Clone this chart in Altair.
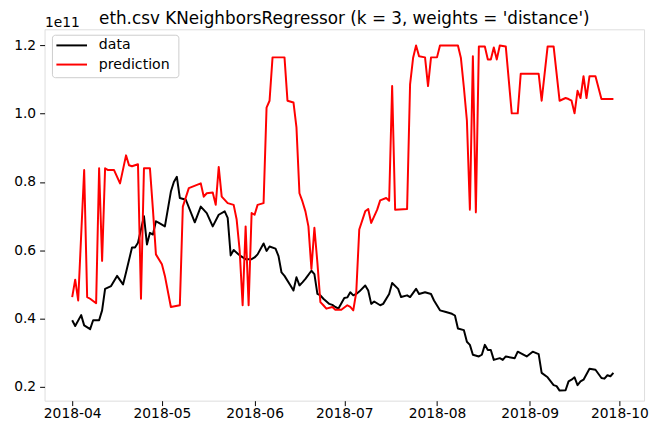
import altair as alt
import pandas as pd

# ---- data (values in units of 1e11) ----
data_dates = [
    "2018-04-01", "2018-04-02", "2018-04-04", "2018-04-05", "2018-04-07", "2018-04-08", "2018-04-10",
    "2018-04-11", "2018-04-12", "2018-04-14", "2018-04-16", "2018-04-18", "2018-04-19", "2018-04-21",
    "2018-04-22", "2018-04-23", "2018-04-25", "2018-04-26", "2018-04-27", "2018-04-28", "2018-04-29",
    "2018-04-30", "2018-05-02", "2018-05-04", "2018-05-05", "2018-05-06", "2018-05-07", "2018-05-09",
    "2018-05-12", "2018-05-14", "2018-05-16", "2018-05-18", "2018-05-20", "2018-05-22", "2018-05-23",
    "2018-05-24", "2018-05-25", "2018-05-27", "2018-05-29", "2018-05-31", "2018-06-01", "2018-06-02",
    "2018-06-04", "2018-06-05", "2018-06-06", "2018-06-08", "2018-06-09", "2018-06-10", "2018-06-11",
    "2018-06-13", "2018-06-14", "2018-06-15", "2018-06-16", "2018-06-17", "2018-06-18", "2018-06-20",
    "2018-06-21", "2018-06-22", "2018-06-23", "2018-06-24", "2018-06-26", "2018-06-27", "2018-06-28",
    "2018-06-29", "2018-07-01", "2018-07-02", "2018-07-03", "2018-07-04", "2018-07-05", "2018-07-06",
    "2018-07-08", "2018-07-09", "2018-07-10", "2018-07-11", "2018-07-13", "2018-07-14", "2018-07-16",
    "2018-07-17", "2018-07-19", "2018-07-20", "2018-07-22", "2018-07-23", "2018-07-25", "2018-07-26",
    "2018-07-28", "2018-07-30", "2018-07-31", "2018-08-02", "2018-08-04", "2018-08-06", "2018-08-07",
    "2018-08-08", "2018-08-10", "2018-08-11", "2018-08-12", "2018-08-13", "2018-08-15", "2018-08-16",
    "2018-08-17", "2018-08-18", "2018-08-19", "2018-08-20", "2018-08-22", "2018-08-23", "2018-08-24",
    "2018-08-27", "2018-08-28", "2018-08-31", "2018-09-02", "2018-09-04", "2018-09-05", "2018-09-07",
    "2018-09-09", "2018-09-10", "2018-09-11", "2018-09-13", "2018-09-14", "2018-09-15", "2018-09-16",
    "2018-09-17", "2018-09-18", "2018-09-19", "2018-09-21", "2018-09-23", "2018-09-25", "2018-09-26",
    "2018-09-27", "2018-09-28", "2018-09-29",
]
data_values = [
    0.395, 0.378, 0.410, 0.380, 0.369, 0.395, 0.395,
    0.424, 0.487, 0.495, 0.525, 0.500, 0.535, 0.608,
    0.608, 0.622, 0.700, 0.617, 0.651, 0.646, 0.685,
    0.680, 0.670, 0.772, 0.800, 0.815, 0.753, 0.748,
    0.682, 0.728, 0.709, 0.670, 0.704, 0.714, 0.695,
    0.585, 0.601, 0.585, 0.574, 0.574, 0.579, 0.588,
    0.620, 0.598, 0.611, 0.605, 0.583, 0.535, 0.525,
    0.497, 0.482, 0.521, 0.497, 0.506, 0.516, 0.540,
    0.530, 0.472, 0.468, 0.458, 0.443, 0.440, 0.434,
    0.429, 0.460, 0.462, 0.477, 0.468, 0.472, 0.479,
    0.497, 0.482, 0.443, 0.450, 0.439, 0.443, 0.472,
    0.504, 0.487, 0.463, 0.468, 0.463, 0.487, 0.472,
    0.477, 0.472, 0.453, 0.424, 0.419, 0.414, 0.409,
    0.371, 0.366, 0.332, 0.323, 0.294, 0.289, 0.294,
    0.323, 0.308, 0.308, 0.279, 0.284, 0.279, 0.289,
    0.284, 0.303, 0.289, 0.303, 0.296, 0.241, 0.228,
    0.205, 0.202, 0.189, 0.190, 0.216, 0.221, 0.228,
    0.205, 0.216, 0.221, 0.253, 0.250, 0.226, 0.224,
    0.234, 0.231, 0.241,
]

pred_dates = [
    "2018-04-01", "2018-04-02", "2018-04-03", "2018-04-05", "2018-04-06", "2018-04-07", "2018-04-09",
    "2018-04-10", "2018-04-11", "2018-04-12", "2018-04-13", "2018-04-15", "2018-04-17", "2018-04-19",
    "2018-04-20", "2018-04-21", "2018-04-23", "2018-04-24", "2018-04-25", "2018-04-27", "2018-04-28",
    "2018-04-29", "2018-05-01", "2018-05-02", "2018-05-04", "2018-05-07", "2018-05-08", "2018-05-10",
    "2018-05-14", "2018-05-15", "2018-05-16", "2018-05-18", "2018-05-19", "2018-05-20", "2018-05-21",
    "2018-05-23", "2018-05-25", "2018-05-26", "2018-05-27", "2018-05-28", "2018-05-29", "2018-05-30",
    "2018-05-31", "2018-06-01", "2018-06-02", "2018-06-04", "2018-06-05", "2018-06-06", "2018-06-07",
    "2018-06-11", "2018-06-12", "2018-06-14", "2018-06-15", "2018-06-16", "2018-06-17", "2018-06-18",
    "2018-06-19", "2018-06-20", "2018-06-21", "2018-06-22", "2018-06-23", "2018-06-24", "2018-06-25",
    "2018-06-27", "2018-06-28", "2018-06-30", "2018-07-02", "2018-07-03", "2018-07-04", "2018-07-05",
    "2018-07-06", "2018-07-08", "2018-07-09", "2018-07-10", "2018-07-12", "2018-07-13", "2018-07-15",
    "2018-07-16", "2018-07-17", "2018-07-18", "2018-07-22", "2018-07-23", "2018-07-24", "2018-07-25",
    "2018-07-26", "2018-07-28", "2018-07-29", "2018-07-30", "2018-08-01", "2018-08-02", "2018-08-08",
    "2018-08-09", "2018-08-10", "2018-08-11", "2018-08-12", "2018-08-13", "2018-08-14", "2018-08-15",
    "2018-08-17", "2018-08-18", "2018-08-19", "2018-08-20", "2018-08-21", "2018-08-22", "2018-08-24",
    "2018-08-26", "2018-08-28", "2018-08-29", "2018-09-04", "2018-09-05", "2018-09-07", "2018-09-09",
    "2018-09-11", "2018-09-13", "2018-09-14", "2018-09-15", "2018-09-16", "2018-09-17", "2018-09-18",
    "2018-09-19", "2018-09-20", "2018-09-21", "2018-09-23", "2018-09-25", "2018-09-29",
]
pred_values = [
    0.463, 0.514, 0.453, 0.835, 0.463, 0.458, 0.445,
    0.840, 0.569, 0.840, 0.835, 0.835, 0.796, 0.878,
    0.849, 0.846, 0.852, 0.458, 0.840, 0.840, 0.719,
    0.588, 0.559, 0.525, 0.434, 0.439, 0.728, 0.782,
    0.796, 0.757, 0.767, 0.769, 0.733, 0.844, 0.757,
    0.738, 0.733, 0.690, 0.600, 0.439, 0.670, 0.439,
    0.709, 0.704, 0.733, 0.738, 1.018, 1.038, 1.165,
    1.165, 1.038, 1.033, 0.960, 0.767, 0.743, 0.714,
    0.670, 0.545, 0.666, 0.564, 0.448, 0.439, 0.429,
    0.434, 0.426, 0.426, 0.439, 0.434, 0.424, 0.477,
    0.661, 0.714, 0.721, 0.680, 0.719, 0.746, 0.753,
    0.745, 1.081, 0.719, 0.721, 1.086, 1.163, 1.200,
    1.168, 1.165, 1.081, 1.165, 1.165, 1.200, 1.200,
    1.163, 1.076, 0.980, 0.719, 1.168, 0.711, 1.197,
    1.197, 1.159, 1.159, 1.194, 1.159, 1.200, 1.197,
    1.001, 1.001, 1.117, 1.117, 1.038, 1.197, 1.197,
    1.038, 1.046, 1.043, 1.038, 1.001, 1.067, 1.046,
    1.110, 1.046, 1.110, 1.110, 1.043, 1.043,
]

series_names = ["data", "prediction"]
series_colors = ["black", "red"]
y_ticks = [0.2, 0.4, 0.6, 0.8, 1.0, 1.2]
month_ticks = [(2018, m) for m in range(4, 11)]
title_text = "eth.csv KNeighborsRegressor (k = 3, weights = 'distance')"

df = pd.concat([
    pd.DataFrame({"date": data_dates, "value": data_values, "series": "data", "order": 0}),
    pd.DataFrame({"date": pred_dates, "value": pred_values, "series": "prediction", "order": 1}),
])

FONT = "DejaVu Sans"
W, H = 607, 376

color_scale = alt.Scale(domain=series_names, range=series_colors)

x_enc = alt.X(
    "date:T",
    scale=alt.Scale(
        type="utc",
        domain=[
            alt.DateTime(year=2018, month=3, date=22, hours=18, utc=True),
            alt.DateTime(year=2018, month=10, date=9, hours=6, utc=True),
        ],
        nice=False,
    ),
    axis=alt.Axis(
        values=[alt.DateTime(year=y, month=m, date=1, utc=True) for y, m in month_ticks],
        format="%Y-%m",
        title=None,
        grid=False,
        domain=False,
        tickColor="black",
        tickSize=5,
        tickWidth=1,
        labelPadding=1,
        labelFont=FONT,
        labelFontSize=14,
        labelColor="black",
        labelOverlap=False,
    ),
)

y_enc = alt.Y(
    "value:Q",
    scale=alt.Scale(domain=[0.1595, 1.2472], nice=False, zero=False),
    axis=alt.Axis(
        values=y_ticks,
        format=".1f",
        title="1e11",
        titleAngle=0,
        titleX=0,
        titleY=-3,
        titleAlign="left",
        titleBaseline="alphabetic",
        titleFont=FONT,
        titleFontSize=14,
        titleFontWeight="normal",
        titleColor="black",
        grid=False,
        domain=False,
        tickColor="black",
        tickSize=5,
        tickWidth=1,
        labelPadding=4,
        labelFont=FONT,
        labelFontSize=14,
        labelColor="black",
    ),
)

lines = (
    alt.Chart(df)
    .mark_line(strokeWidth=2, strokeJoin="round")
    .encode(
        x=x_enc,
        y=y_enc,
        color=alt.Color("series:N", scale=color_scale, legend=None),
        order="order:Q",
        detail="series:N",
    )
)

# ---- legend box drawn like matplotlib's (upper left) ----
LEG_X0, LEG_X1, LEG_Y0, LEG_Y1 = 8, 136, 6, 49
ROW_Y = [16.3, 35.7]
SYM_X0, SYM_X1, LABEL_X = 12, 43, 55

legend_layers = [
    alt.Chart(pd.DataFrame({"k": [0]}))
    .mark_rect(fill="white", fillOpacity=0.8, stroke="#cccccc", strokeWidth=1, cornerRadius=3)
    .encode(x=alt.value(LEG_X0), x2=alt.value(LEG_X1), y=alt.value(LEG_Y0), y2=alt.value(LEG_Y1))
]
for name, ry in zip(series_names, ROW_Y):
    one = pd.DataFrame({"series": [name]})
    legend_layers.append(
        alt.Chart(one)
        .mark_rule(strokeWidth=2)
        .encode(
            x=alt.value(SYM_X0), x2=alt.value(SYM_X1), y=alt.value(ry),
            color=alt.Color("series:N", scale=color_scale, legend=None),
        )
    )
    legend_layers.append(
        alt.Chart(one)
        .mark_text(align="left", baseline="middle", font=FONT, fontSize=14.3, color="black")
        .encode(x=alt.value(LABEL_X), y=alt.value(ry), text="series:N")
    )

chart = (
    alt.layer(lines, *legend_layers)
    .properties(
        width=W,
        height=H,
        title=alt.TitleParams(
            title_text,
            font=FONT,
            fontSize=17,
            fontWeight="normal",
            color="black",
            anchor="middle",
            frame="group",
            offset=0,
            dy=12.5,
        ),
        padding={"left": 37, "top": 19, "right": 5, "bottom": 17},
        autosize=alt.AutoSizeParams(type="none"),
    )
    .configure_view(stroke="black", strokeWidth=1)
    .configure(background="white")
)

chart.save("out.html", embed_options={"renderer": "svg", "actions": False})
